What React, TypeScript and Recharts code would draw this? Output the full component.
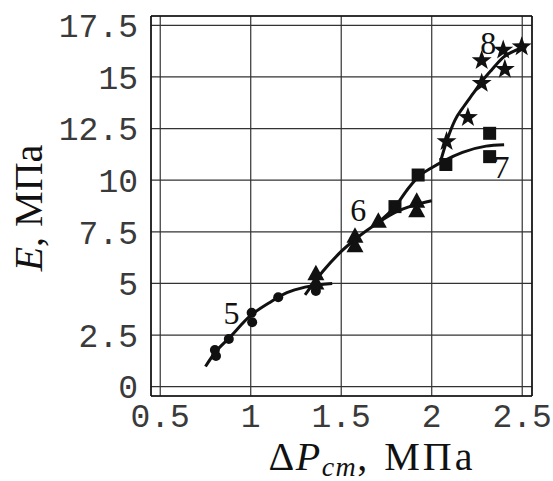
import React from 'react';
import { ComposedChart, Line, Scatter, XAxis, YAxis, CartesianGrid } from 'recharts';

// ---- axis ticks ----
const xTicks = [0.5, 1, 1.5, 2, 2.5];
const yTicks = [0, 2.5, 5, 7.5, 10, 12.5, 15, 17.5];
const xMinorTicks = [0.5, 0.6, 0.7, 0.8, 0.9, 1, 1.1, 1.2, 1.3, 1.4, 1.5, 1.6, 1.7, 1.8, 1.9, 2, 2.1, 2.2, 2.3, 2.4, 2.5];
const yMinorTicks = [0, 0.5, 1, 1.5, 2, 2.5, 3, 3.5, 4, 4.5, 5, 5.5, 6, 6.5, 7, 7.5, 8, 8.5, 9, 9.5, 10, 10.5, 11, 11.5, 12, 12.5, 13, 13.5, 14, 14.5, 15, 15.5, 16, 16.5, 17, 17.5];
const xDomain = [0.449, 2.554];
const yDomain = [-0.45, 17.95];

// ---- measured points ----
const points5 = [
  { x: 0.802, y: 1.78 }, { x: 0.808, y: 1.49 }, { x: 0.879, y: 2.31 },
  { x: 1.005, y: 3.58 }, { x: 1.008, y: 3.12 }, { x: 1.152, y: 4.33 }, { x: 1.36, y: 4.63 },
];
const points6 = [
  { x: 1.36, y: 5.45 }, { x: 1.36, y: 5.0 }, { x: 1.576, y: 7.26 }, { x: 1.576, y: 6.8 },
  { x: 1.705, y: 7.99 }, { x: 1.917, y: 8.95 }, { x: 1.917, y: 8.5 },
];
const points7 = [
  { x: 1.797, y: 8.72 }, { x: 1.925, y: 10.25 }, { x: 2.078, y: 10.76 },
  { x: 2.32, y: 12.27 }, { x: 2.32, y: 11.14 },
];
const points8 = [
  { x: 2.082, y: 11.87 }, { x: 2.2, y: 13.04 }, { x: 2.276, y: 14.69 }, { x: 2.276, y: 15.79 },
  { x: 2.395, y: 16.3 }, { x: 2.404, y: 15.37 }, { x: 2.497, y: 16.46 },
];

// ---- fitted curves ----
const curve5 = [
  { x: 0.75, y: 0.98 }, { x: 0.8, y: 1.62 }, { x: 0.88, y: 2.35 }, { x: 1.0, y: 3.45 },
  { x: 1.1, y: 4.05 }, { x: 1.2, y: 4.55 }, { x: 1.3, y: 4.82 }, { x: 1.45, y: 5.0 },
];
const curve6 = [
  { x: 1.3, y: 4.45 }, { x: 1.4, y: 5.6 }, { x: 1.5, y: 6.55 }, { x: 1.6, y: 7.3 },
  { x: 1.7, y: 7.92 }, { x: 1.8, y: 8.45 }, { x: 1.9, y: 8.78 }, { x: 2.0, y: 9.0 },
];
const curve7 = [
  { x: 1.7, y: 7.92 }, { x: 1.8, y: 8.75 }, { x: 1.87, y: 9.6 }, { x: 1.93, y: 10.2 },
  { x: 2.0, y: 10.6 }, { x: 2.07, y: 10.95 }, { x: 2.17, y: 11.35 }, { x: 2.3, y: 11.65 }, { x: 2.4, y: 11.72 },
];
const curve8 = [
  { x: 2.05, y: 10.95 }, { x: 2.082, y: 11.87 }, { x: 2.128, y: 12.9 }, { x: 2.174, y: 13.53 },
  { x: 2.229, y: 14.2 }, { x: 2.276, y: 14.77 }, { x: 2.331, y: 15.34 }, { x: 2.395, y: 15.95 },
  { x: 2.46, y: 16.27 }, { x: 2.524, y: 16.46 },
];

// ---- curve labels ----
const curveLabels = [
  { x: 0.894, y: 3.55, label: '5' },
  { x: 1.594, y: 8.56, label: '6' },
  { x: 2.386, y: 10.65, label: '7' },
  { x: 2.312, y: 16.63, label: '8' },
];

const INK = '#111';
const monoFont = '"Liberation Mono", "DejaVu Sans Mono", monospace';
const serifFont = '"Liberation Serif", "DejaVu Serif", serif';

const CircleShape = (p: any) => <circle cx={p.cx} cy={p.cy} r={5} fill={INK} />;
const TriangleShape = (p: any) => (
  <polygon points={`${p.cx},${p.cy - 9.5} ${p.cx - 8.5},${p.cy + 6} ${p.cx + 8.5},${p.cy + 6}`} fill={INK} />
);
const SquareShape = (p: any) => <rect x={p.cx - 6.5} y={p.cy - 6.5} width={13} height={13} fill={INK} />;
const StarShape = (p: any) => {
  const pts: string[] = [];
  for (let i = 0; i < 10; i++) {
    const r = i % 2 === 0 ? 10.5 : 4.2;
    const a = (-90 + i * 36) * Math.PI / 180;
    pts.push(`${p.cx + r * Math.cos(a)},${p.cy + r * Math.sin(a)}`);
  }
  return <polygon points={pts.join(' ')} fill={INK} />;
};
const LabelShape = (p: any) => (
  <text x={p.cx} y={p.cy} textAnchor="middle" dominantBaseline="central" fontFamily={serifFont} fontSize={32} fill={INK}>
    {p.payload.label}
  </text>
);

const YTitle = () => (
  <text x={42} y={208} transform="rotate(-90, 42, 208)" textAnchor="middle" fontFamily={serifFont} fontSize={40} fill={INK}>
    <tspan fontStyle="italic">E</tspan>
    <tspan>, МПа</tspan>
  </text>
);
const XTitle = () => (
  <text x={372} y={470} textAnchor="middle" fontFamily={serifFont} fontSize={40} letterSpacing={1.5} fill={INK}>
    <tspan>Δ</tspan>
    <tspan fontStyle="italic">P</tspan>
    <tspan fontStyle="italic" fontSize={28} dy={6}>cm</tspan>
    <tspan dy={-6}>, </tspan>
    <tspan dx={4} letterSpacing={3}>МПа</tspan>
  </text>
);

export default function App() {
  return (
    <div style={{ position: 'absolute', left: 0, top: 0, width: 553, height: 481, background: '#fff' }}>
      <ComposedChart width={553} height={481} margin={{ top: 16, right: 21, bottom: 0, left: 0 }}>
        <CartesianGrid stroke="#333" strokeWidth={1.2} />
        <XAxis
          dataKey="x" type="number" domain={xDomain} ticks={xTicks} allowDataOverflow
          height={85} tickLine={false} tickSize={0} tickMargin={8}
          axisLine={{ stroke: INK, strokeWidth: 1.5 }}
          tick={{ fontFamily: monoFont, fontSize: 33, fill: '#3a3a3a' }}
          label={() => <XTitle />}
        />
        <YAxis
          dataKey="y" type="number" domain={yDomain} ticks={yTicks} allowDataOverflow
          width={151} tickLine={false} tickSize={0} tickMargin={13}
          axisLine={{ stroke: INK, strokeWidth: 1.5 }}
          tick={{ fontFamily: monoFont, fontSize: 33, fill: '#3a3a3a' }}
          label={() => <YTitle />}
        />
        <XAxis xAxisId="bm" orientation="bottom" mirror type="number" domain={xDomain} ticks={xMinorTicks}
          allowDataOverflow height={1} tick={false} tickSize={4} axisLine={false} tickLine={{ stroke: INK }} />
        <XAxis xAxisId="tm" orientation="top" mirror type="number" domain={xDomain} ticks={xMinorTicks}
          allowDataOverflow height={1} tick={false} tickSize={4} axisLine={{ stroke: INK, strokeWidth: 1.5 }} tickLine={{ stroke: INK }} />
        <YAxis yAxisId="lm" orientation="left" mirror type="number" domain={yDomain} ticks={yMinorTicks}
          allowDataOverflow width={1} tick={false} tickSize={4} axisLine={false} tickLine={{ stroke: INK }} />
        <YAxis yAxisId="rm" orientation="right" mirror type="number" domain={yDomain} ticks={yMinorTicks}
          allowDataOverflow width={1} tick={false} tickSize={4} axisLine={{ stroke: INK, strokeWidth: 1.5 }} tickLine={{ stroke: INK }} />

        <Line data={curve5} dataKey="y" type="monotone" stroke={INK} strokeWidth={3} dot={false} activeDot={false} isAnimationActive={false} />
        <Line data={curve6} dataKey="y" type="monotone" stroke={INK} strokeWidth={3} dot={false} activeDot={false} isAnimationActive={false} />
        <Line data={curve7} dataKey="y" type="monotone" stroke={INK} strokeWidth={3} dot={false} activeDot={false} isAnimationActive={false} />
        <Line data={curve8} dataKey="y" type="monotone" stroke={INK} strokeWidth={3} dot={false} activeDot={false} isAnimationActive={false} />

        <Scatter data={points5} shape={CircleShape} isAnimationActive={false} />
        <Scatter data={points6} shape={TriangleShape} isAnimationActive={false} />
        <Scatter data={points7} shape={SquareShape} isAnimationActive={false} />
        <Scatter data={points8} shape={StarShape} isAnimationActive={false} />
        <Scatter data={curveLabels} shape={LabelShape} isAnimationActive={false} />
      </ComposedChart>
    </div>
  );
}
